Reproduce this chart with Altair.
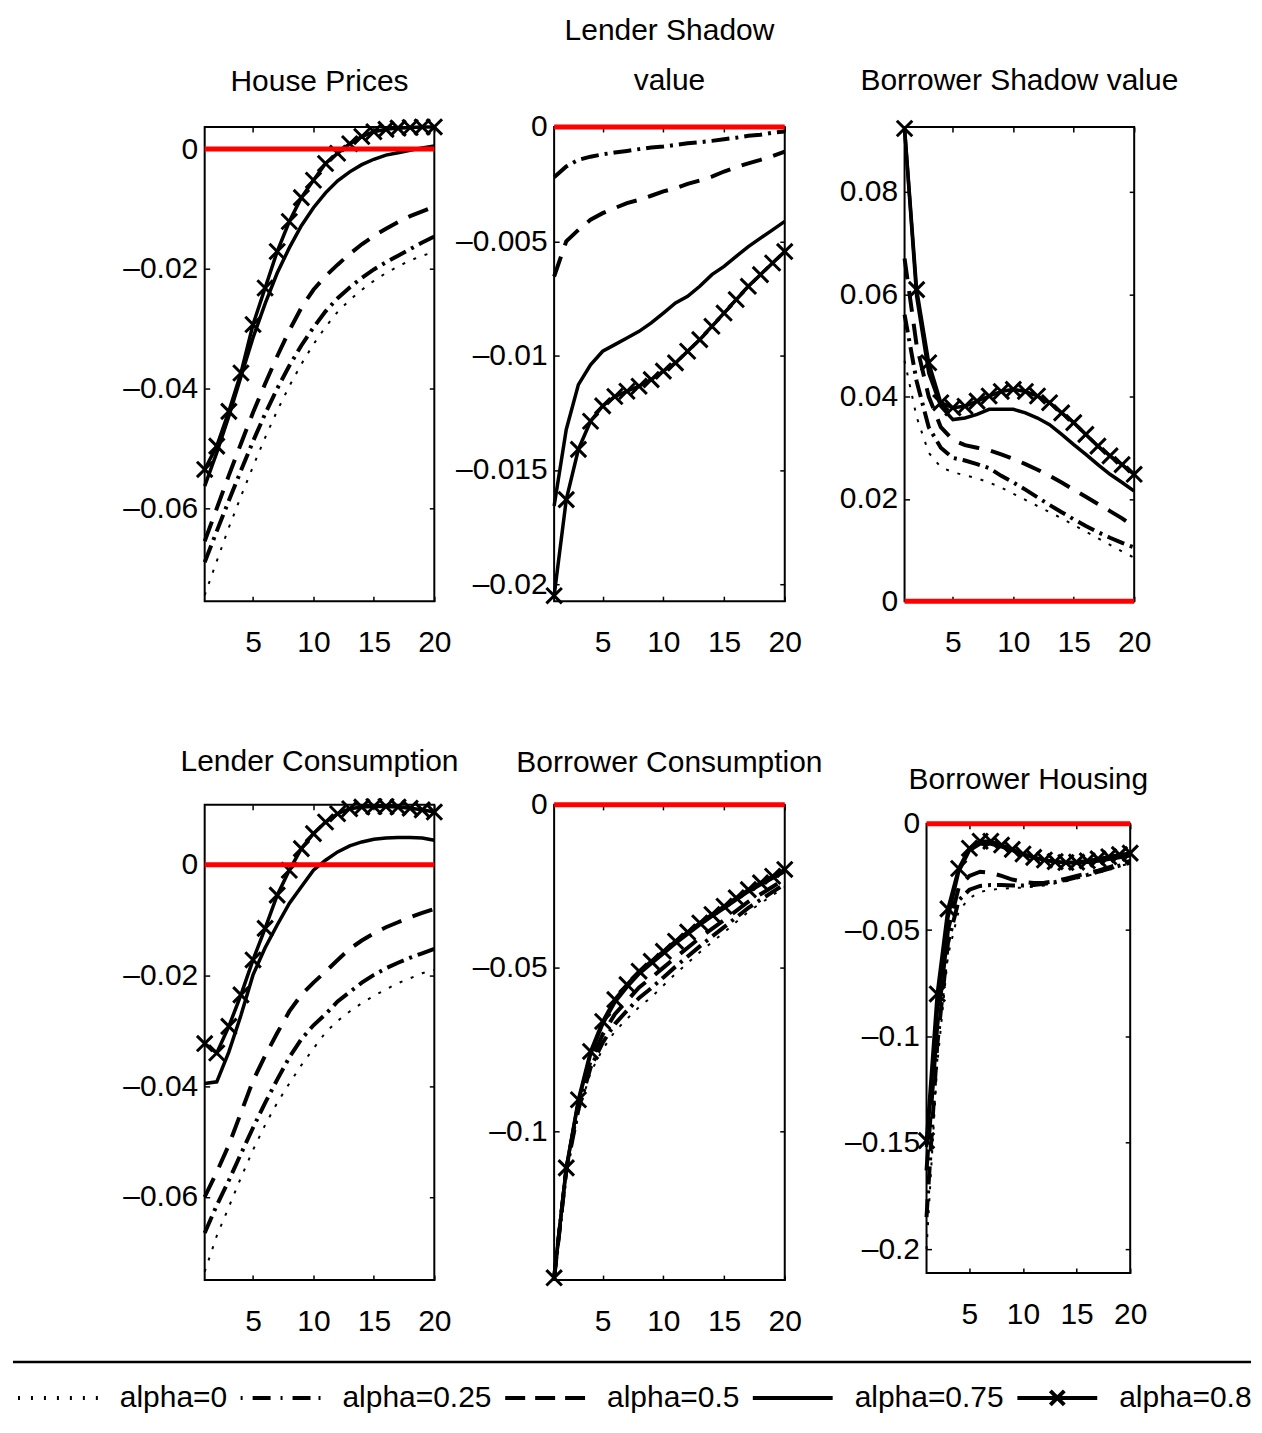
import altair as alt
import pandas as pd

# ---------------- data ----------------
T = list(range(1, 21))
SERIES = ["alpha=0", "alpha=0.25", "alpha=0.5", "alpha=0.75", "alpha=0.8"]
X_DOMAIN = [1, 20]
X_TICKS = [5, 10, 15, 20]

# House Prices
hp_a0 = [-0.0745, -0.0688, -0.0632, -0.0580, -0.0530, -0.0482, -0.0437, -0.0396, -0.0359, -0.0326,
         -0.0297, -0.0272, -0.0252, -0.0235, -0.0220, -0.0207, -0.0196, -0.0186, -0.0178, -0.0172]
hp_a025 = [-0.0690, -0.0638, -0.0587, -0.0537, -0.0488, -0.0442, -0.0400, -0.0362, -0.0328, -0.0298,
           -0.0271, -0.0249, -0.0231, -0.0215, -0.0201, -0.0189, -0.0178, -0.0167, -0.0156, -0.0146]
hp_a05 = [-0.0655, -0.0600, -0.0545, -0.0492, -0.0440, -0.0392, -0.0346, -0.0303, -0.0265, -0.0235,
          -0.0212, -0.0193, -0.0175, -0.0159, -0.0145, -0.0133, -0.0122, -0.0112, -0.0104, -0.0096]
hp_a075 = [-0.0563, -0.0507, -0.0446, -0.0380, -0.0315, -0.0258, -0.0207, -0.0165, -0.0128, -0.0098,
           -0.0073, -0.0053, -0.0038, -0.0026, -0.0017, -0.0010, -0.0006, -0.0002, 0.0002, 0.0005]
hp_a08 = [-0.0535, -0.0496, -0.0438, -0.0374, -0.0293, -0.0232, -0.0171, -0.0121, -0.0081, -0.0052,
          -0.0024, -0.0007, 0.0009, 0.0021, 0.0029, 0.0033, 0.0035, 0.0036, 0.0037, 0.0037]
hp_ydomain = [-0.0755, 0.0037]
hp_yticks = [-0.06, -0.04, -0.02, 0]

# Lender Shadow value
lsv_a0 = [0.0] * 20
lsv_a025 = [-0.0022, -0.00173, -0.00144, -0.0013, -0.0012, -0.00112, -0.00105, -0.00097, -0.0009, -0.00086,
            -0.00079, -0.00071, -0.00067, -0.00061, -0.00054, -0.00047, -0.00039, -0.00034, -0.00025, -0.0002]
lsv_a05 = [-0.00654, -0.0050, -0.0045, -0.00406, -0.00377, -0.00355, -0.00333, -0.00319, -0.00301, -0.00282,
           -0.00268, -0.00249, -0.00234, -0.00217, -0.00195, -0.00176, -0.00159, -0.00144, -0.00127, -0.00108]
lsv_a075 = [-0.01658, -0.01323, -0.01127, -0.0104, -0.00981, -0.00952, -0.00923, -0.00894, -0.00857, -0.00814,
            -0.0077, -0.00741, -0.00697, -0.00646, -0.0061, -0.00566, -0.00523, -0.00486, -0.0045, -0.00413]
lsv_a08 = [-0.0205, -0.0163, -0.0141, -0.01287, -0.0122, -0.01179, -0.01156, -0.01134, -0.01105, -0.01068,
           -0.01032, -0.00981, -0.0093, -0.00872, -0.00814, -0.00755, -0.00697, -0.00646, -0.00595, -0.00545]
lsv_ydomain = [-0.02074, 0.0]
lsv_yticks = [-0.02, -0.015, -0.01, -0.005, 0]

# Borrower Shadow value
bsv_a0 = [0.047, 0.036, 0.029, 0.0262, 0.0252, 0.0246, 0.024, 0.0232, 0.0222, 0.021,
          0.0198, 0.0186, 0.0174, 0.0162, 0.0149, 0.0136, 0.0123, 0.011, 0.0097, 0.0085]
bsv_a025 = [0.056, 0.043, 0.034, 0.030, 0.028, 0.0275, 0.0268, 0.026, 0.0245, 0.0232,
            0.0218, 0.0203, 0.0188, 0.0174, 0.016, 0.0147, 0.0135, 0.0124, 0.0114, 0.0105]
bsv_a05 = [0.067, 0.050, 0.040, 0.034, 0.0315, 0.0305, 0.0300, 0.0295, 0.0287, 0.0278,
           0.0268, 0.0257, 0.0245, 0.0232, 0.0218, 0.0204, 0.0190, 0.0176, 0.0162, 0.0145]
bsv_a075 = [0.0924, 0.0596, 0.0446, 0.0381, 0.0355, 0.0358, 0.0365, 0.0375, 0.0375, 0.0375,
            0.0368, 0.0358, 0.0345, 0.0326, 0.0306, 0.0287, 0.0267, 0.0248, 0.0232, 0.0215]
bsv_a08 = [0.0924, 0.0609, 0.0466, 0.0388, 0.0378, 0.0381, 0.0391, 0.0401, 0.041, 0.0414,
           0.041, 0.0401, 0.0388, 0.0368, 0.0349, 0.0326, 0.0303, 0.0284, 0.0267, 0.0248]
bsv_ydomain = [0.0, 0.0927]
bsv_yticks = [0, 0.02, 0.04, 0.06, 0.08]

# Lender Consumption
lc_a0 = [-0.0735, -0.0670, -0.0618, -0.0565, -0.0515, -0.0470, -0.0430, -0.0395, -0.0362, -0.0332,
         -0.0303, -0.0282, -0.0265, -0.0250, -0.0237, -0.0225, -0.0214, -0.0205, -0.0196, -0.0190]
lc_a025 = [-0.0665, -0.0615, -0.0570, -0.0522, -0.0475, -0.0430, -0.0388, -0.0348, -0.0315, -0.0290,
           -0.0270, -0.0247, -0.0230, -0.0213, -0.0199, -0.0187, -0.0177, -0.0168, -0.0160, -0.0152]
lc_a05 = [-0.0600, -0.0555, -0.0506, -0.0448, -0.0390, -0.0345, -0.0304, -0.0265, -0.0235, -0.0213,
          -0.0193, -0.0172, -0.0152, -0.0137, -0.0124, -0.0113, -0.0104, -0.0095, -0.0087, -0.0080]
lc_a075 = [-0.0395, -0.0392, -0.0338, -0.0272, -0.0199, -0.0150, -0.0109, -0.0070, -0.0040, -0.0010,
           0.0008, 0.0023, 0.0034, 0.0041, 0.0046, 0.0048, 0.0049, 0.0049, 0.0048, 0.0044]
lc_a08 = [-0.0323, -0.0340, -0.0292, -0.0235, -0.0172, -0.0115, -0.0055, -0.0010, 0.0029, 0.0056,
          0.0077, 0.0092, 0.0101, 0.0104, 0.0105, 0.0105, 0.0104, 0.0102, 0.0099, 0.0095]
lc_ydomain = [-0.075, 0.0108]
lc_yticks = [-0.06, -0.04, -0.02, 0]

# Borrower Consumption
bc_a0 = [-0.1450, -0.1128, -0.0944, -0.0821, -0.0749, -0.0695, -0.0656, -0.0620, -0.0590, -0.0554,
         -0.0518, -0.0485, -0.0452, -0.0421, -0.0391, -0.0359, -0.0328, -0.0302, -0.0277, -0.0252]
bc_a025 = [-0.1450, -0.1123, -0.0934, -0.0806, -0.0729, -0.0672, -0.0631, -0.0592, -0.0562, -0.0529,
           -0.0496, -0.0465, -0.0434, -0.0404, -0.0375, -0.0345, -0.0316, -0.0291, -0.0267, -0.0243]
bc_a05 = [-0.1450, -0.1118, -0.0919, -0.0786, -0.0704, -0.0642, -0.0601, -0.0560, -0.0530, -0.0499,
          -0.0468, -0.0438, -0.0408, -0.0380, -0.0353, -0.0325, -0.0297, -0.0274, -0.0251, -0.0228]
bc_a075 = [-0.1450, -0.1115, -0.0910, -0.0765, -0.0672, -0.0606, -0.0559, -0.0518, -0.0487, -0.0456,
           -0.0425, -0.0396, -0.0368, -0.0342, -0.0317, -0.0291, -0.0266, -0.0245, -0.0225, -0.0204]
bc_a08 = [-0.1450, -0.1113, -0.0904, -0.0756, -0.0664, -0.0597, -0.0551, -0.0510, -0.0480, -0.0449,
          -0.0418, -0.0390, -0.0362, -0.0336, -0.0311, -0.0285, -0.0260, -0.0239, -0.0219, -0.0198]
bc_ydomain = [-0.1457, 0.0]
bc_yticks = [-0.1, -0.05, 0]

# Borrower Housing
bh_a0 = [-0.200, -0.113, -0.062, -0.041, -0.035, -0.032, -0.031, -0.0305, -0.0302, -0.0300,
         -0.0296, -0.0290, -0.0280, -0.0270, -0.0258, -0.0245, -0.0231, -0.0216, -0.0200, -0.0185]
bh_a025 = [-0.185, -0.104, -0.056, -0.036, -0.031, -0.0292, -0.0288, -0.0288, -0.0290, -0.0290,
           -0.0288, -0.0282, -0.0274, -0.0264, -0.0252, -0.0240, -0.0226, -0.0212, -0.0197, -0.0182]
bh_a05 = [-0.163, -0.095, -0.050, -0.030, -0.0245, -0.0225, -0.0230, -0.0245, -0.0262, -0.0273,
          -0.0278, -0.0277, -0.0270, -0.0258, -0.0245, -0.0232, -0.0220, -0.0205, -0.0190, -0.0175]
bh_a075 = [-0.152, -0.088, -0.044, -0.0225, -0.0125, -0.0095, -0.0095, -0.0108, -0.0125, -0.0143,
           -0.0158, -0.0170, -0.0178, -0.0183, -0.0184, -0.0181, -0.0175, -0.0167, -0.0158, -0.0150]
bh_a08 = [-0.149, -0.080, -0.040, -0.021, -0.0115, -0.0082, -0.0082, -0.0100, -0.0120, -0.0142,
          -0.0158, -0.0170, -0.0178, -0.0182, -0.0180, -0.0174, -0.0165, -0.0155, -0.0145, -0.0138]
bh_ydomain = [-0.2113, 0.0]
bh_yticks = [-0.2, -0.15, -0.1, -0.05, 0]

# separator line (fraction of its own axis) and zero reference line value
SEP_X = [0, 1]
ZERO = 0.0

# ---------------- styles ----------------
FONT = '"Liberation Sans", Arial, sans-serif'
FS = 30
LINE_STYLE = {
    "alpha=0": dict(strokeDash=[3, 9], strokeWidth=2),
    "alpha=0.25": dict(strokeDash=[18, 6, 3, 6], strokeWidth=4),
    "alpha=0.5": dict(strokeDash=[21, 12], strokeWidth=4),
    "alpha=0.75": dict(strokeWidth=3.5),
    "alpha=0.8": dict(strokeWidth=3.5),
}
XMARK = "M-1,-1L1,1M-1,1L1,-1"
# legend samples (unit = 10 px, each sample spans 80 px)
LEG_PATHS = [
    "M-1,0L-0.8,0M0.3,0L0.5,0M1.6,0L1.8,0M2.9,0L3.1,0M4.2,0L4.4,0M5.5,0L5.7,0M6.8,0L7,0",
    "M-1,0L-0.8,0M0.2,0L2,0M3,0L3.2,0M4.2,0L6,0M6.8,0L7,0",
    "M-1,0L1,0M2,0L4,0M5,0L7,0",
    "M-1,0L7,0",
    "M-1,0L7,0M2.3,-0.7L3.7,0.7M2.3,0.7L3.7,-0.7",
]
LABEL_EXPR = "datum.value < 0 ? '\u2013' + format(-datum.value, '~g') : format(datum.value, '~g')"


def make_panel(title, lists, ydom, yticks, gaps=(0, 0, 0, 0),
               xr=None, yr=None, title_kw=None, legend=False, box=False):
    gl, gt, gr, gb = gaps
    xs = dict(domain=X_DOMAIN, nice=False, zero=False)
    if xr:
        xs["range"] = xr
    ys = dict(domain=ydom, nice=False, zero=False)
    if yr:
        ys["range"] = yr
    lab = dict(labelFont=FONT, labelFontSize=FS, labelColor="black", labelFlush=False,
               labelOverlap=False, labelExpr=LABEL_EXPR, title=None, grid=False, domain=False,
               tickColor="black", tickWidth=1.5, tickSize=5)
    ax_b = alt.Axis(orient="bottom", values=X_TICKS, offset=-(gb + 5), labelPadding=26, **lab)
    ax_l = alt.Axis(orient="left", values=yticks, offset=-(gl + 5), labelPadding=7, **lab)
    ax_t = alt.Axis(orient="top", values=X_TICKS, offset=-(gt + 5), labels=False, title=None,
                    grid=False, domain=False, tickColor="black", tickWidth=1.5, tickSize=5)
    ax_r = alt.Axis(orient="right", values=yticks, offset=-(gr + 5), labels=False, title=None,
                    grid=False, domain=False, tickColor="black", tickWidth=1.5, tickSize=5)

    layers = []
    for i, (name, vals) in enumerate(zip(SERIES, lists)):
        df = pd.DataFrame({"t": T, "v": vals})
        layers.append(
            alt.Chart(df).mark_line(color="black", **LINE_STYLE[name]).encode(
                x=alt.X("t:Q", scale=alt.Scale(**xs), axis=ax_b if i == 0 else None),
                y=alt.Y("v:Q", scale=alt.Scale(**ys), axis=ax_l if i == 0 else None),
            )
        )
    dfx = pd.DataFrame({"t": T, "v": lists[4]})
    layers.append(
        alt.Chart(dfx).mark_point(shape=XMARK, filled=False, size=240, strokeWidth=3,
                                  color="black", opacity=1).encode(
            x=alt.X("t:Q", scale=alt.Scale(**xs), axis=None),
            y=alt.Y("v:Q", scale=alt.Scale(**ys), axis=None),
        )
    )
    if box:
        dfb = pd.DataFrame({"x0": [X_DOMAIN[0]], "x1": [X_DOMAIN[1]], "y0": [ydom[0]], "y1": [ydom[1]]})
        layers.append(
            alt.Chart(dfb).mark_rect(fillOpacity=0, stroke="black", strokeWidth=2).encode(
                x=alt.X("x0:Q", scale=alt.Scale(**xs), axis=None), x2="x1:Q",
                y=alt.Y("y0:Q", scale=alt.Scale(**ys), axis=None), y2="y1:Q",
            )
        )
    dfz = pd.DataFrame({"t0": [X_DOMAIN[0]], "t1": [X_DOMAIN[1]], "v": [ZERO]})
    layers.append(
        alt.Chart(dfz).mark_rule(color="#ff0000", strokeWidth=5).encode(
            x=alt.X("t0:Q", scale=alt.Scale(**xs), axis=ax_t), x2="t1:Q",
            y=alt.Y("v:Q", scale=alt.Scale(**ys), axis=ax_r),
        )
    )
    if legend:
        dfl = pd.DataFrame({"t": T * 5, "v": sum(lists, []),
                            "s": [s for s in SERIES for _ in T]})
        layers.append(
            alt.Chart(dfl).transform_filter("datum.t < 0").mark_point(
                filled=False, size=400, strokeWidth=4, color="black", opacity=1).encode(
                x=alt.X("t:Q", scale=alt.Scale(**xs), axis=None),
                y=alt.Y("v:Q", scale=alt.Scale(**ys), axis=None),
                shape=alt.Shape("s:N", scale=alt.Scale(domain=SERIES, range=LEG_PATHS),
                                legend=alt.Legend(
                                    orient="none", legendX=-192, legendY=1258,
                                    direction="horizontal", columns=5, title=None,
                                    symbolSize=400, symbolStrokeWidth=4,
                                    symbolStrokeColor="black", symbolFillColor="transparent",
                                    labelFont=FONT, labelFontSize=FS, labelColor="black",
                                    labelOffset=77, columnPadding=5, labelLimit=400,
                                    padding=0)),
            )
        )
    tk = dict(text=title, font=FONT, fontSize=FS, fontWeight="normal", color="black",
              frame="group", anchor="middle", offset=17, lineHeight=50)
    if title_kw:
        tk.update(title_kw)
    return alt.layer(*layers), alt.TitleParams(**tk)


p1, t1 = make_panel("House Prices", [hp_a0, hp_a025, hp_a05, hp_a075, hp_a08],
                    hp_ydomain, hp_yticks, legend=True, title_kw=dict(offset=16.5))
p1 = p1.properties(width=230, height=475, title=t1)

p2, t2 = make_panel(["Lender Shadow", "value"], [lsv_a0, lsv_a025, lsv_a05, lsv_a075, lsv_a08],
                    lsv_ydomain, lsv_yticks, title_kw=dict(offset=16.4))
p2 = p2.properties(width=231, height=475, title=t2)

p3, t3 = make_panel("Borrower Shadow value", [bsv_a0, bsv_a025, bsv_a05, bsv_a075, bsv_a08],
                    bsv_ydomain, bsv_yticks, title_kw=dict(offset=18.5))
p3 = p3.properties(width=230, height=475, title=t3)

p4i, t4 = make_panel("Lender Consumption", [lc_a0, lc_a025, lc_a05, lc_a075, lc_a08],
                     lc_ydomain, lc_yticks, title_kw=dict(offset=16))
sep = alt.Chart(pd.DataFrame({"a": [SEP_X[0]], "b": [SEP_X[1]], "y": [0]})).mark_rule(
    color="black", strokeWidth=2.5).encode(
    x=alt.X("a:Q", scale=alt.Scale(domain=SEP_X, range=[-192, 1048], nice=False, zero=False), axis=None),
    x2="b:Q",
    y=alt.Y("y:Q", scale=alt.Scale(domain=[0, 1], range=[558, 558], nice=False, zero=False), axis=None),
)
p4 = alt.layer(p4i, sep).resolve_scale(x="independent", y="independent").properties(
    width=230, height=476, title=t4)

p5, t5 = make_panel("Borrower Consumption", [bc_a0, bc_a025, bc_a05, bc_a075, bc_a08],
                    bc_ydomain, bc_yticks, title_kw=dict(offset=12.4))
p5 = p5.properties(width=231, height=476, title=t5)

p6, t6 = make_panel("Borrower Housing", [bh_a0, bh_a025, bh_a05, bh_a075, bh_a08],
                    bh_ydomain, bh_yticks, gaps=(22, 19, 4, 7),
                    xr=[22, 226], yr=[469, 19], box=True, title_kw=dict(offset=10, dx=9))
p6 = p6.properties(width=230, height=476, title=t6,
                   view=alt.ViewBackground(stroke="transparent"))

chart = alt.concat(p1, p2, p3, p4, p5, p6, columns=3, bounds="flush",
                   spacing={"row": 204, "column": 120}).properties(
    padding={"left": 2, "top": 5, "right": 0, "bottom": 0}
).configure_view(stroke="black", strokeWidth=2)

chart.save("out.html", embed_options={"renderer": "svg", "actions": False})
